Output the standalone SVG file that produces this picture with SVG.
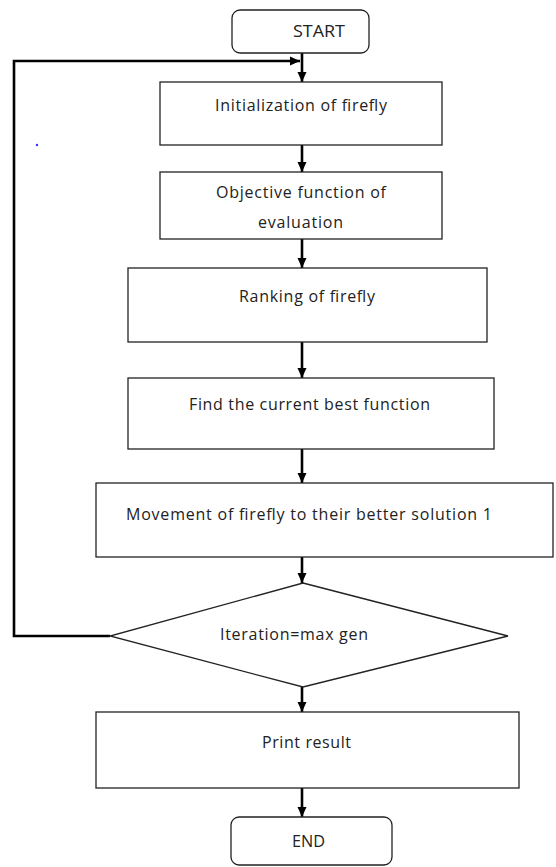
<svg xmlns="http://www.w3.org/2000/svg" width="556" height="867" viewBox="0 0 556 867">
<style>
.box{fill:#fff;stroke:#222;stroke-width:1.3}
.t{font-family:"Open Sans","Liberation Sans",Arial,sans-serif;font-size:16px;fill:#222;text-anchor:middle}
.c{fill:none;stroke:#000;stroke-width:2.6}
</style>
<defs>
<marker id="ah" markerUnits="userSpaceOnUse" markerWidth="10" markerHeight="10" viewBox="0 0 10 10" refX="10" refY="5" orient="auto">
<path d="M0,0.5 L10,5 L0,9.5 Z" fill="#000"/>
</marker>
</defs>
<rect width="556" height="867" fill="#fff"/>
<g id="connectors">
<line class="c" x1="302" y1="53" x2="302" y2="82" marker-end="url(#ah)"/>
<polyline class="c" points="110,636 14,636 14,61 300,61" marker-end="url(#ah)"/>
<line class="c" x1="302" y1="145" x2="302" y2="172" marker-end="url(#ah)"/>
<line class="c" x1="302" y1="239" x2="302" y2="268" marker-end="url(#ah)"/>
<line class="c" x1="302" y1="342" x2="302" y2="378" marker-end="url(#ah)"/>
<line class="c" x1="302" y1="449" x2="302" y2="483" marker-end="url(#ah)"/>
<line class="c" x1="302" y1="557" x2="302" y2="583" marker-end="url(#ah)"/>
<line class="c" x1="302" y1="687" x2="302" y2="712" marker-end="url(#ah)"/>
<line class="c" x1="302" y1="788" x2="302" y2="817" marker-end="url(#ah)"/>
</g>
<g id="start">
<rect class="box" x="232" y="10" width="137" height="43" rx="8"/>
<text class="t" x="319" y="37" textLength="52" lengthAdjust="spacingAndGlyphs">START</text>
</g>
<g id="init">
<rect class="box" x="160" y="82" width="282" height="63"/>
<text class="t" x="301" y="111" textLength="172" lengthAdjust="spacing">Initialization of firefly</text>
</g>
<g id="objective">
<rect class="box" x="160" y="172" width="282" height="67"/>
<text class="t" x="301" y="198" textLength="170" lengthAdjust="spacing">Objective function of</text>
<text class="t" x="300.5" y="228" textLength="85" lengthAdjust="spacing">evaluation</text>
</g>
<g id="ranking">
<rect class="box" x="128" y="268" width="359" height="74"/>
<text class="t" x="307" y="302" textLength="136" lengthAdjust="spacing">Ranking of firefly</text>
</g>
<g id="find">
<rect class="box" x="128" y="378" width="366" height="71"/>
<text class="t" x="309.5" y="410" textLength="241" lengthAdjust="spacing">Find the current best function</text>
</g>
<g id="movement">
<rect class="box" x="96" y="483" width="457" height="74"/>
<text class="t" x="309" y="520" textLength="366" lengthAdjust="spacing">Movement of firefly to their better solution 1</text>
</g>
<g id="decision">
<polygon class="box" points="303,583 508,636 303,687 110,636"/>
<text class="t" x="294" y="640" textLength="148" lengthAdjust="spacing">Iteration=max gen</text>
</g>
<g id="print">
<rect class="box" x="96" y="712" width="423" height="76"/>
<text class="t" x="306.5" y="748" textLength="89" lengthAdjust="spacing">Print result</text>
</g>
<g id="end">
<rect class="box" x="231" y="817" width="161" height="48" rx="8"/>
<text class="t" x="308.5" y="847" textLength="33" lengthAdjust="spacingAndGlyphs">END</text>
</g>
<circle cx="37" cy="145" r="1.2" fill="#3333ff"/>
</svg>
